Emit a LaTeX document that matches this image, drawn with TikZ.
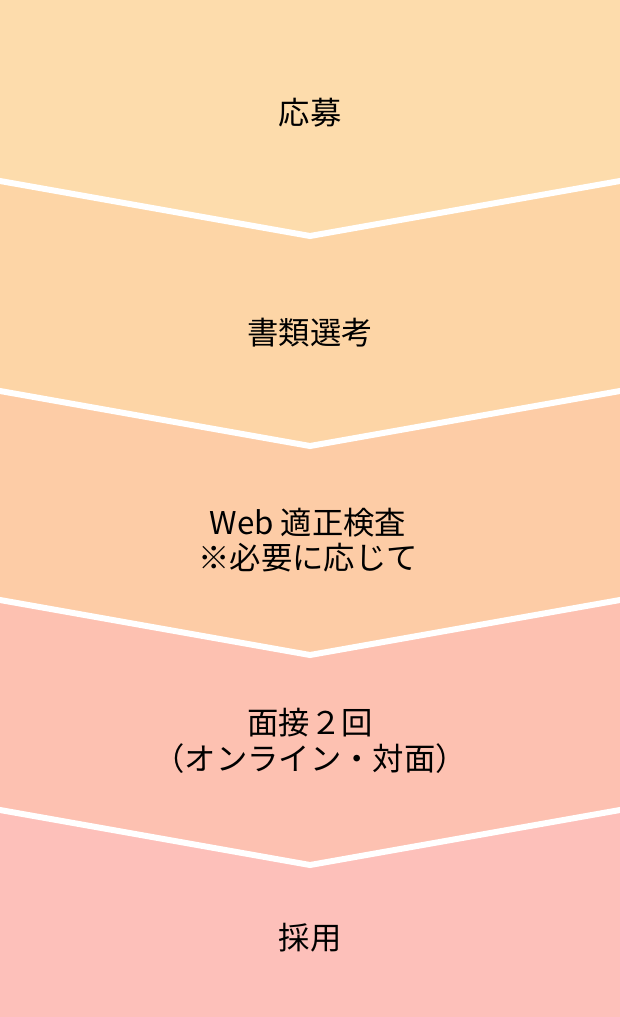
\documentclass[tikz,border=0pt]{standalone}
\usepackage{fontspec}
\setmainfont{Noto Sans CJK JP}
\definecolor{stepone}{RGB}{253,220,172}
\definecolor{steptwo}{RGB}{253,213,166}
\definecolor{stepthree}{RGB}{253,204,166}
\definecolor{stepfour}{RGB}{253,193,177}
\definecolor{stepfive}{RGB}{253,192,186}
\tikzset{every picture/.style={line width=0.75pt}}
\tikzset{steplabel/.style={inner sep=0.75pt,align=center,font=\fontsize{23.5}{26.5}\selectfont}}
\tikzset{stepgap/.style={draw=white,line width=4.5pt,line join=miter}}

\begin{document}
\begin{tikzpicture}[x=0.75pt,y=0.75pt,yscale=-1,xscale=1]
\useasboundingbox (0,0) rectangle (620,1017);

%Shape: Bands
\fill [stepone]   (0,0) -- (620,0) -- (620,181) -- (310,236) -- (0,181) -- cycle ;
\fill [steptwo]   (0,181) -- (310,236) -- (620,181) -- (620,391) -- (310,446) -- (0,391) -- cycle ;
\fill [stepthree] (0,391) -- (310,446) -- (620,391) -- (620,600) -- (310,655) -- (0,600) -- cycle ;
\fill [stepfour]  (0,600) -- (310,655) -- (620,600) -- (620,810) -- (310,865) -- (0,810) -- cycle ;
\fill [stepfive]  (0,810) -- (310,865) -- (620,810) -- (620,1017) -- (0,1017) -- cycle ;

%Straight Lines: gaps between bands
\draw [stepgap] (-5,180.1) -- (310,236) -- (625,180.1) ;
\draw [stepgap] (-5,390.1) -- (310,446) -- (625,390.1) ;
\draw [stepgap] (-5,599.1) -- (310,655) -- (625,599.1) ;
\draw [stepgap] (-5,809.1) -- (310,865) -- (625,809.1) ;

% Text Node
\node [steplabel] (apply) at (310,113) {応募};
% Text Node
\node [steplabel] (papers) at (310,333) {書類選考};
% Text Node
\node [steplabel] (webtest) at (308,540) {Web 適正検査\\※必要に応じて};
% Text Node
\node [steplabel] (interview) at (310,741) {面接２回\\（オンライン・対面）};
% Text Node
\node [steplabel] (hire) at (310,938) {採用};

\end{tikzpicture}
\end{document}
